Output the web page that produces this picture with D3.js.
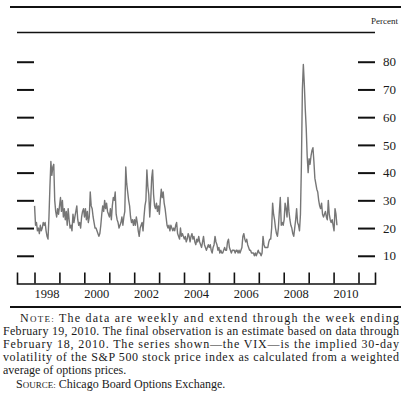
<!DOCTYPE html>
<html><head><meta charset="utf-8">
<script src="https://cdn.jsdelivr.net/npm/d3@7"></script>
<style>
html,body{margin:0;padding:0;background:#fff;}
svg{display:block;font-family:"Liberation Serif","Times New Roman",serif;}
</style></head>
<body><svg id="c" width="401" height="401"></svg>
<script>
// VIX, roughly biweekly readings (percent), Jan 1998 – Feb 19, 2010
const vix1998 = [28,21,22,19,20,18,21,19,20,22,21,22,19,17,16,24,35,44,39,42,43,30,26,24,27,25];
const vix1999 = [28,31,26,30,24,27,23,26,21,27,23,20,21,19,25,22,24,26,28,23,21,22,20,24,26,27];
const vix2000 = [24,27,23,26,22,24,33,28,27,24,22,20,20,19,18,17,18,21,25,28,26,30,27,29,26,25];
const vix2001 = [24,27,23,28,31,30,33,25,23,22,20,21,22,24,21,24,26,42,36,33,30,28,24,22,23,21];
const vix2002 = [23,21,24,22,19,17,20,21,22,19,24,28,30,41,35,32,24,30,38,41,32,28,27,29,26,28];
const vix2003 = [25,30,34,31,33,29,27,24,21,20,21,19,21,20,19,20,19,21,22,18,17,16,20,17,18,17];
const vix2004 = [16,17,15,16,18,17,15,17,18,16,17,15,14,16,15,17,15,14,13,15,17,14,13,12,13,14];
const vix2005 = [13,14,12,11,13,14,17,15,14,12,13,11,12,11,11,12,13,12,12,15,16,13,12,11,12,12];
const vix2006 = [12,11,12,12,11,12,11,12,13,17,18,16,15,16,14,13,12,12,11,11,11,10,11,10,11,12];
const vix2007 = [11,11,10,11,17,14,13,13,13,13,15,16,16,20,29,25,23,20,18,17,20,26,31,21,22,21];
const vix2008 = [23,29,27,24,31,26,23,21,20,18,17,20,23,27,22,21,19,25,43,70,79,72,63,56,46,40];
const vix2009 = [45,43,46,48,49,44,38,36,34,33,30,28,27,29,25,24,25,26,24,23,30,25,23,22,23,21];
const vix2010 = [19,27,25,21];
const firstWeek = "1998-01-02";
const lastWeek = "2010-02-19";
const yTicks = [10,20,30,40,50,60,70,80];
const tickYears = [1998,1999,2000,2001,2002,2003,2004,2005,2006,2007,2008,2009,2010,2011];
const labelYears = [1998,2000,2002,2004,2006,2008,2010];
const unitLabel = "Percent";
const noteLines = [
  {lead:"N", caps:"OTE:", rest:" The data are weekly and extend through the week ending"},
  {lead:"", caps:"", rest:"February 19, 2010. The final observation is an estimate based on data through"},
  {lead:"", caps:"", rest:"February 18, 2010. The series shown\u2014the VIX\u2014is the implied 30-day"},
  {lead:"", caps:"", rest:"volatility of the S&P 500 stock price index as calculated from a weighted"},
  {lead:"", caps:"", rest:"average of options prices."},
  {lead:"S", caps:"OURCE:", rest:" Chicago Board Options Exchange."}
];

const values = [].concat(vix1998,vix1999,vix2000,vix2001,vix2002,vix2003,vix2004,vix2005,vix2006,vix2007,vix2008,vix2009,vix2010);
const parse = d3.timeParse("%Y-%m-%d");
const idx = d3.scaleLinear().domain([0, values.length-1]).range([parse(firstWeek), parse(lastWeek)].map(d=>+d));
const data = values.map((v,i)=>({date:new Date(idx(i)), v}));

const svg = d3.select("#c");
const base = d3.scaleTime().domain([new Date(1998,0,1), new Date(2011,0,1)]).range([34.5,358.5]);
const x = d3.scaleTime().domain([base.invert(17), base.invert(375)]).range([17,375]);
const y = d3.scaleLinear().domain([0,90]).range([283.5,34]);

// header rules
svg.append("line").attr("x1",10).attr("x2",401).attr("y1",7).attr("y2",7).attr("stroke","#111").attr("stroke-width",2);
svg.append("text").attr("x",398).attr("y",24).attr("text-anchor","end").attr("font-size",9).attr("fill","#222").text(unitLabel);
svg.append("line").attr("x1",17).attr("x2",375).attr("y1",32.5).attr("y2",32.5).attr("stroke","#111").attr("stroke-width",1.6);

// y axes (tick dashes both sides, labels right)
const yl = svg.append("g").attr("transform","translate(34,0)")
  .call(d3.axisLeft(y).tickValues(yTicks).tickSize(17).tickFormat(""));
const yr = svg.append("g").attr("transform","translate(358,0)")
  .call(d3.axisRight(y).tickValues(yTicks).tickSize(17).tickPadding(8));
[yl,yr].forEach(g=>{
  g.select(".domain").remove();
  g.selectAll(".tick line").attr("stroke","#111").attr("stroke-width",2);
});
yr.selectAll(".tick text").attr("font-size",13).attr("fill","#1a1a1a").attr("font-family","'Liberation Serif',serif");

// x axis
const xa = svg.append("g").attr("transform","translate(0,283.5)")
  .call(d3.axisBottom(x).tickValues(tickYears.map(t=>new Date(t,0,1))).tickSize(-11).tickSizeOuter(-11).tickFormat(""));
xa.select(".domain").attr("stroke","#111").attr("stroke-width",1.6);
xa.selectAll(".tick line").attr("stroke","#111").attr("stroke-width",1.6);
svg.append("g").selectAll("text").data(labelYears).join("text")
  .attr("x",d=>x(new Date(d,6,2))).attr("y",297.5).attr("text-anchor","middle")
  .attr("font-size",12.5).attr("fill","#1a1a1a").text(d=>d);

// series
svg.append("path").datum(data)
  .attr("fill","none").attr("stroke","#767676").attr("stroke-width",1.4).attr("stroke-linejoin","round")
  .attr("d", d3.line().x(d=>x(d.date)).y(d=>y(d.v)));

// notes
svg.append("line").attr("x1",10).attr("x2",401).attr("y1",307).attr("y2",307).attr("stroke","#111").attr("stroke-width",1.8);
const nx = [20,3,3,3,3,16];
const justify = [379,396,396,396,0,0];
noteLines.forEach((ln,i)=>{
  const t = svg.append("text").attr("x",nx[i]).attr("y",321.5+13.2*i).attr("font-size",12).attr("fill","#1a1a1a");
  if (ln.lead) t.append("tspan").text(ln.lead);
  if (ln.caps) t.append("tspan").attr("font-size",9).text(ln.caps);
  t.append("tspan").text(ln.rest);
  if (justify[i]) t.attr("textLength",justify[i]).attr("lengthAdjust","spacing");
});
</script></body></html>
